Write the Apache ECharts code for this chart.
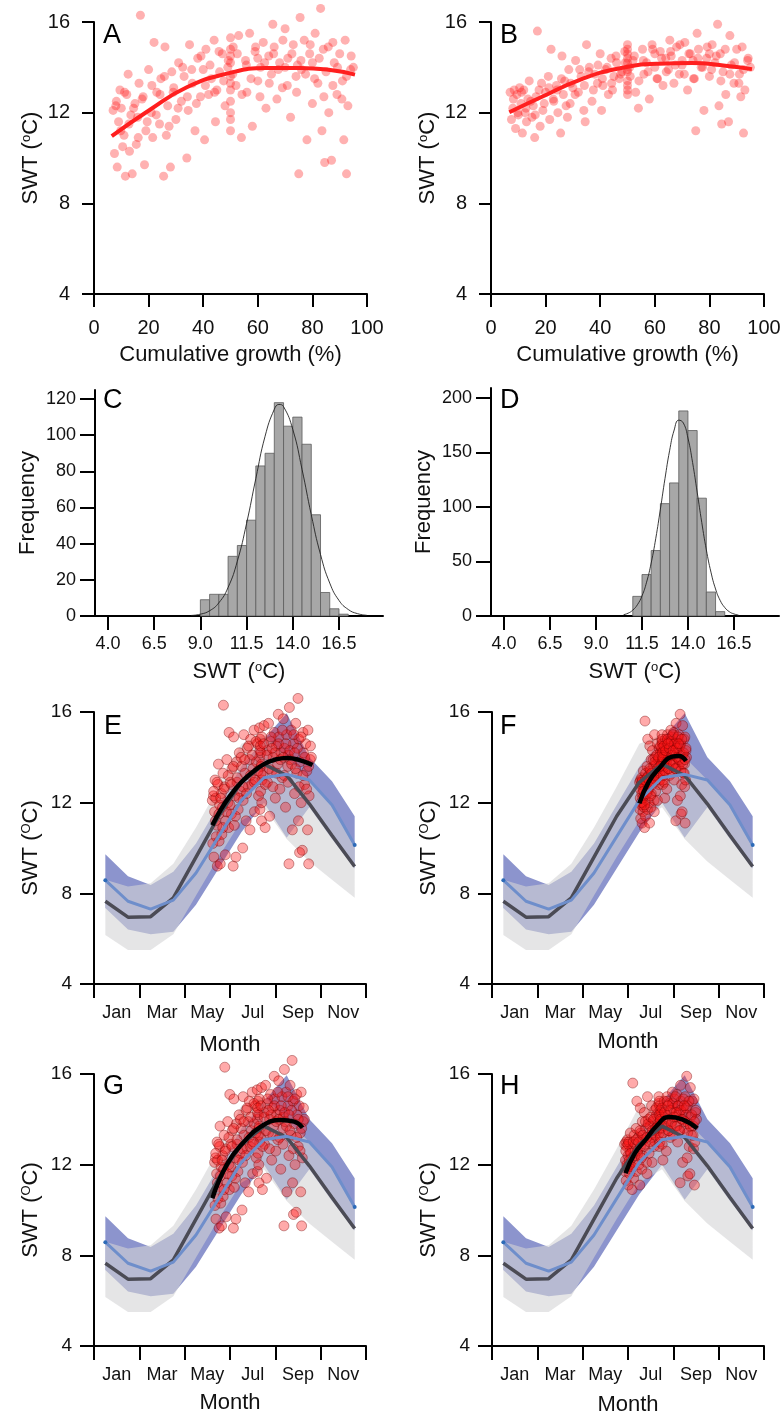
<!DOCTYPE html>
<html>
<head>
<meta charset="utf-8">
<script src="https://cdn.jsdelivr.net/npm/echarts@6/dist/echarts.min.js"></script>
<style>
html, body { margin: 0; background: #fff; }
#main { width: 784px; height: 1418px; }
</style>
</head>
<body>
<div id="main"></div>
<script>
var FONT = 'Liberation Sans, Arial, sans-serif';

// cumulative growth (%) of each record, shared by A and B
var growth = [7,7.5,8,8.5,9,9.5,10,10.5,11,11.5,12,12.5,13,13.5,14,15,
  15.5,16,16.5,17,18,18.5,19,20,21,21.5,22,23,24,24.5,
  25.5,26,26.5,27,28,28.5,29,30,31,32,33,34,34.5,
  35,36,37,38,39,40,40.5,41,42,43,44,44.5,
  46,47,48,49,50,50,50,50,50,50,50,50,51,52,53,54,
  55.5,56,57,58,59,60,61,62,63,64,65,65.5,
  66,67,68,69,70,71,72,73,74,75,75.5,74.5,
  76,77,78,79,80,81,82,83,83.5,84,84.5,85,
  86,87,87.5,88,89,90,91,91.5,92,92.5,93,94,95];
var growth2 = [8.2,9.8,11.2,12.8,14.5,16.2,17.6,19.5,21.2,22.8,
  24.2,25.8,27.5,29.2,30.8,32.5,34.2,35.8,37.5,39.2,
  40.8,42.5,44.2,45.8,47.5,49.2,50,50,50,50.8,
  52.5,54.2,55.8,57.5,59.2,60.8,62.5,64.2,65.8,67.5,
  69.2,70.8,72.5,74.2,75.8,77.5,79.2,80.8,82.5,84.2,
  85.8,87.5,89.2,90.8,92.5,94.2,60,70,80,45];

// SWT reconstructions, left column (A, E, G)
var swtA = [12.1,10.2,12.3,9.6,11.6,13.0,12.2,10.5,11.0,9.2,12.8,13.7,10.3,11.9,9.3,12.4,
  10.6,11.8,13.3,16.3,12.7,9.7,11.2,13.9,12.0,10.9,15.1,12.9,11.5,13.5,
  9.2,14.9,11.0,12.3,9.6,13.8,12.9,11.7,14.2,12.5,13.6,10.0,12.1,
  15.0,13.3,11.2,14.4,12.7,13.9,10.8,14.8,12.8,13.5,15.2,11.6,
  13.8,14.6,12.3,14.0,15.3,14.8,14.2,13.6,13.0,12.5,11.7,11.2,14.9,13.2,15.4,10.9,
  14.3,12.9,15.5,11.4,14.7,13.4,14.0,15.1,12.2,14.5,13.7,15.9,
  14.9,12.6,14.2,13.1,15.7,14.4,11.8,15.0,13.6,9.3,16.2,14.1,
  13.9,15.2,10.8,14.6,12.4,15.5,13.3,16.6,11.2,14.8,9.8,13.8,
  12.0,9.9,15.1,14.2,12.8,14.6,13.4,10.8,15.2,9.3,12.3,13.9,14.0];
var swtA2 = [12.5,11.2,12.9,11.5,12.2,10.9,12.6,11.6,13.2,11.9,
  12.8,13.6,11.4,13.1,12.2,14.0,12.7,13.9,12.4,14.5,
  13.2,14.1,12.9,14.7,13.4,14.3,14.5,13.3,12.0,13.7,
  14.6,12.8,14.1,13.5,14.9,12.7,14.2,13.3,14.6,13.9,
  15.2,13.2,14.6,12.9,14.3,13.7,15.0,13.5,14.4,12.7,
  14.9,13.2,14.0,12.6,13.6,14.5,14.4,14.0,14.2,13.0];

// SWT reconstructions, right column (B, F, H)
var swtB = [12.9,11.7,12.2,13.0,11.3,12.8,11.9,13.1,12.4,11.1,13.0,12.0,11.6,12.6,13.4,11.8,
  12.3,10.9,12.7,15.6,11.4,13.3,12.1,12.9,13.6,11.7,14.8,12.5,13.2,12.0,
  11.1,14.5,12.8,13.4,11.8,13.9,12.4,13.1,14.3,12.9,13.6,12.1,11.6,
  15.0,14.0,12.5,13.7,13.3,14.6,12.1,13.2,13.9,12.8,14.4,13.0,
  14.2,13.5,13.8,14.7,15.0,14.6,14.2,13.8,13.4,13.0,12.8,14.4,13.6,14.3,12.9,12.2,
  14.8,13.7,14.2,12.6,15.0,14.0,13.5,14.7,13.2,14.4,13.9,15.2,
  14.5,13.3,14.9,13.7,14.1,15.1,13.0,14.6,14.3,11.2,15.5,13.5,
  14.8,14.0,12.1,14.4,13.6,15.0,14.2,15.9,12.3,14.6,11.5,13.8,
  12.8,11.6,15.4,14.1,13.3,14.8,13.7,12.7,14.9,11.1,13.0,14.3,14.0];
var swtB2 = [12.6,12.0,12.9,12.2,12.5,11.9,13.0,12.4,13.1,12.6,
  13.0,13.5,12.3,13.3,12.8,13.9,13.2,13.8,13.0,14.1,
  13.5,14.0,13.3,14.5,13.7,14.2,14.8,13.9,13.2,14.0,
  14.5,13.4,14.3,13.8,14.8,13.5,14.4,13.8,14.7,14.1,
  15.0,13.7,14.6,13.5,14.4,14.0,14.9,13.9,14.5,13.4,
  14.8,13.7,14.2,13.3,13.9,14.4,14.6,14.3,14.6,13.6];

// dates of the same records, in months from 1 Jan
var monthE = [5.22,5.24,5.27,5.29,5.32,5.34,5.37,5.39,5.42,5.44,5.47,5.49,5.52,5.54,5.57,5.62,
  5.64,5.67,5.69,5.71,5.76,5.79,5.81,5.86,5.91,5.94,5.96,6.01,6.06,6.09,
  6.14,6.16,6.19,6.21,6.26,6.29,6.31,6.36,6.41,6.46,6.51,6.56,6.58,
  6.61,6.66,6.71,6.76,6.81,6.86,6.88,6.91,6.96,7.01,7.06,7.08,
  7.16,7.21,7.26,7.31,7.30,7.33,7.36,7.38,7.41,7.35,7.32,7.39,7.40,7.45,7.50,7.55,
  7.63,7.65,7.70,7.75,7.80,7.85,7.90,7.95,8.00,8.05,8.10,8.13,
  8.15,8.20,8.25,8.30,8.35,8.40,8.45,8.50,8.55,8.60,8.62,8.57,
  8.65,8.70,8.75,8.80,8.85,8.90,8.95,9.00,9.02,9.04,9.07,9.09,
  9.14,9.19,9.22,9.24,9.29,9.34,9.39,9.42,9.44,9.47,9.49,9.54,9.59];
var monthE2 = [5.28,5.36,5.43,5.51,5.59,5.68,5.74,5.84,5.92,6.00,
  6.07,6.15,6.24,6.32,6.40,6.49,6.57,6.65,6.73,6.82,
  6.90,6.98,7.07,7.15,7.23,7.32,7.34,7.37,7.40,7.39,
  7.48,7.56,7.64,7.73,7.81,7.89,7.98,8.06,8.14,8.22,
  8.31,8.39,8.47,8.56,8.64,8.72,8.81,8.89,8.97,9.05,
  9.13,9.22,9.30,9.38,9.47,9.55,7.85,8.35,8.85,7.11];
var monthG = [5.32,5.34,5.36,5.38,5.41,5.43,5.45,5.47,5.50,5.52,5.54,5.56,5.59,5.61,5.63,5.68,
  5.70,5.72,5.74,5.77,5.81,5.83,5.86,5.90,5.95,5.97,5.99,6.04,6.08,6.10,
  6.15,6.17,6.19,6.22,6.26,6.28,6.31,6.35,6.40,6.44,6.49,6.53,6.55,
  6.58,6.62,6.67,6.71,6.76,6.80,6.82,6.85,6.89,6.94,6.98,7.00,
  7.07,7.12,7.16,7.21,7.20,7.23,7.26,7.29,7.31,7.24,7.21,7.28,7.30,7.34,7.39,7.43,
  7.50,7.52,7.57,7.61,7.66,7.70,7.75,7.79,7.84,7.88,7.93,7.95,
  7.97,8.02,8.06,8.11,8.15,8.20,8.24,8.29,8.33,8.38,8.40,8.35,
  8.42,8.47,8.51,8.56,8.60,8.65,8.69,8.74,8.76,8.78,8.80,8.83,
  8.87,8.92,8.94,8.96,9.01,9.05,9.10,9.12,9.14,9.16,9.19,9.23,9.28];
var monthG2 = [5.37,5.44,5.50,5.58,5.65,5.73,5.79,5.88,5.95,6.03,
  6.09,6.16,6.24,6.31,6.39,6.46,6.54,6.61,6.69,6.76,
  6.84,6.91,6.99,7.06,7.14,7.21,7.22,7.25,7.27,7.29,
  7.36,7.44,7.51,7.59,7.66,7.74,7.81,7.89,7.96,8.04,
  8.11,8.19,8.26,8.34,8.41,8.49,8.56,8.64,8.71,8.79,
  8.86,8.94,9.01,9.09,9.16,9.24,7.70,8.15,8.60,7.03];
var monthF = [6.51,6.53,6.54,6.55,6.56,6.57,6.59,6.60,6.61,6.62,6.63,6.64,6.66,6.67,6.68,6.70,
  6.71,6.73,6.74,6.75,6.77,6.78,6.80,6.82,6.84,6.86,6.87,6.89,6.91,6.93,
  6.95,6.96,6.98,6.98,7.01,7.02,7.03,7.06,7.08,7.10,7.13,7.15,7.16,
  7.17,7.20,7.22,7.24,7.27,7.29,7.30,7.31,7.34,7.36,7.38,7.40,
  7.43,7.45,7.48,7.50,7.50,7.52,7.54,7.56,7.51,7.55,7.53,7.49,7.55,7.57,7.60,7.62,
  7.65,7.67,7.69,7.71,7.74,7.76,7.78,7.81,7.83,7.85,7.88,7.89,
  7.90,7.92,7.95,7.97,7.99,8.02,8.04,8.07,8.09,8.11,8.12,8.10,
  8.14,8.16,8.18,8.21,8.23,8.25,8.28,8.30,8.31,8.32,8.34,8.35,
  8.37,8.39,8.41,8.42,8.44,8.47,8.49,8.50,8.51,8.52,8.54,8.56,8.58];
var monthF2 = [6.54,6.58,6.61,6.65,6.69,6.73,6.76,6.81,6.85,6.89,
  6.92,6.96,7.00,7.04,7.07,7.11,7.15,7.19,7.23,7.27,
  7.31,7.35,7.39,7.43,7.47,7.51,7.50,7.53,7.55,7.54,
  7.58,7.62,7.66,7.70,7.74,7.78,7.82,7.86,7.90,7.94,
  7.98,8.01,8.05,8.09,8.13,8.17,8.21,8.25,8.29,8.33,
  8.37,8.41,8.45,8.48,8.52,8.56,7.76,7.99,8.23,7.41];
var monthH = [5.85,5.87,5.89,5.91,5.92,5.94,5.96,5.98,6.00,6.01,6.03,6.05,6.07,6.09,6.10,6.14,
  6.16,6.18,6.19,6.21,6.25,6.27,6.28,6.32,6.36,6.37,6.39,6.43,6.46,6.48,
  6.52,6.54,6.55,6.57,6.61,6.63,6.64,6.68,6.72,6.75,6.79,6.82,6.84,
  6.86,6.90,6.93,6.97,7.00,7.04,7.06,7.08,7.11,7.15,7.18,7.20,
  7.26,7.29,7.33,7.36,7.36,7.39,7.42,7.44,7.38,7.41,7.37,7.43,7.44,7.47,7.51,7.54,
  7.60,7.62,7.65,7.69,7.72,7.76,7.80,7.83,7.87,7.90,7.94,7.96,
  7.98,8.01,8.05,8.08,8.12,8.16,8.19,8.23,8.26,8.30,8.32,8.28,
  8.34,8.37,8.41,8.44,8.48,8.52,8.55,8.59,8.61,8.62,8.64,8.66,
  8.70,8.73,8.75,8.77,8.80,8.84,8.88,8.89,8.91,8.93,8.95,8.98,9.02];
var monthH2 = [5.90,5.95,6.00,6.06,6.12,6.18,6.23,6.30,6.36,6.42,
  6.47,6.53,6.59,6.65,6.71,6.77,6.83,6.89,6.95,7.01,
  7.07,7.13,7.19,7.25,7.31,7.37,7.38,7.41,7.43,7.43,
  7.49,7.55,7.61,7.67,7.73,7.79,7.85,7.91,7.97,8.03,
  8.09,8.15,8.21,8.27,8.33,8.39,8.45,8.51,8.57,8.63,
  8.69,8.75,8.81,8.87,8.93,8.99,7.76,8.12,8.48,7.22];

// fitted curves
var fitAx = [6.5,20.5,34,48.6,63.2,75.5,85.3,95.6];
var fitAy = [10.97,12.13,13.12,13.72,13.97,13.97,13.9,13.68];
var fitBx = [6.7,18.7,32.1,46.8,61.4,73.6,85.8,95.6];
var fitBy = [12.02,12.7,13.43,13.95,14.16,14.19,14.07,13.92];
var fitEx = [5.22,5.6,6.0,6.5,7.0,7.5,8.0,8.5,9.0,9.64];
var fitEy = [11.0,11.7,12.3,12.9,13.35,13.7,13.9,13.97,13.9,13.66];
var fitFx = [6.5,6.92,7.36,7.95,8.24,8.56];
var fitFy = [11.97,12.93,13.5,14.03,14.06,13.84];
var fitGx = [5.22,5.89,6.62,7.36,8.24,8.83,9.2];
var fitGy = [10.52,12.06,13.01,13.68,13.97,13.9,13.63];
var fitHx = [5.89,6.3,6.77,7.3,7.8,8.39,9.05];
var fitHy = [11.62,12.5,13.09,13.75,14.1,14.0,13.6];

// histograms (bin start, 0.5 wide) and fitted normal curves
var binW = 0.5;
var binsC = [9.0,9.5,10.0,10.5,11.0,11.5,12.0,12.5,13.0,13.5,14.0,14.5,15.0,15.5,16.0,16.5];
var countsC = [9,12,12,33,39,53,83,90,118,105,110,95,56,13,4,1];
var binsD = [11.0,11.5,12.0,12.5,13.0,13.5,14.0,14.5,15.0,15.5];
var countsD = [18,38,60,103,122,188,170,108,22,4];
var normCx = [8.5,9,9.5,10,10.5,11,11.5,12,12.5,13,13.25,13.5,14,14.5,15,15.5,16,16.5,17,17.5,18];
var normCy = [0.3,1.0,2.9,7.3,15.8,30.3,51.2,76.0,99.4,114.3,117,115.8,103.2,81.1,56.0,34.0,18.2,8.6,3.6,1.3,0.4];
var normDx = [10.5,10.75,11,11.25,11.5,11.75,12,12.25,12.5,12.75,13,13.25,13.5,13.75,14,14.25,14.5,14.75,15,15.25,15.5,15.75,16,16.25,16.5,16.75];
var normDy = [1.2,2.6,5.4,10.3,18.4,31,48.6,71.2,97.9,125.9,151.4,170.5,179.5,176.9,163.1,140.8,113.6,85.8,60.6,40.2,24.8,14.3,7.8,3.9,1.9,0.8];
var histTicks = [4.0,6.5,9.0,11.5,14.0,16.5];

// monthly climatology (mid-month positions)
var monthNames = ['Jan','Mar','May','Jul','Sep','Nov'];
var monthLabelAt = [1,3,5,7,9,11];
var monthTickAt = [0,2,4,6,8,10,12];
var monthX = [0.5,1.5,2.5,3.5,4.5,5.5,6.5,7.5,8.5,9.5,10.5,11.5];
var grayMean = [7.65,6.95,6.97,7.8,9.6,11.4,12.9,13.7,13.2,11.95,10.55,9.18];
var grayUpper = [8.6,8.3,8.45,9.3,10.9,12.7,14.6,15.0,14.0,13.0,11.9,10.1];
var grayLower = [6.16,5.5,5.5,6.2,7.9,9.6,11.2,11.8,10.4,9.4,8.6,7.8];
var blueMean = [8.58,7.65,7.3,7.7,8.9,10.5,12.1,13.1,13.25,13.0,11.9,10.13];
var blueUpper = [9.72,8.75,8.37,8.95,10.2,11.9,13.6,14.8,15.95,14.0,12.95,11.4];
var blueLower = [7.35,6.4,6.2,6.3,7.5,9.1,10.7,12.0,10.45,11.8,10.4,9.1];

function pairs(xs, ys) {
  return xs.map(function (x, i) { return [x, ys[i]]; });
}

var supStyle = {fontSize: 13, fontFamily: FONT, color: '#111', verticalAlign: 'top'};

function mkAxis(g, o) {
  var a = {
    type: 'value', gridIndex: g, min: o.min, max: o.max,
    axisLine: {onZero: false, lineStyle: {color: '#000', width: 2}},
    axisTick: {length: o.tick, lineStyle: {color: '#000', width: 2}},
    axisLabel: {margin: o.margin, fontSize: o.fs, fontFamily: FONT, color: '#111'},
    splitLine: {show: false},
    name: o.name, nameLocation: 'middle', nameGap: o.gap,
    nameTextStyle: {fontSize: 22, fontFamily: FONT, color: '#111', rich: {s: supStyle}}
  };
  if (o.interval) a.interval = o.interval;
  if (o.ticks) a.axisTick.customValues = o.ticks;
  if (o.labels) a.axisLabel.customValues = o.labels;
  if (o.fmt) a.axisLabel.formatter = o.fmt;
  return a;
}

var grids = [
  {left: 94, top: 22, width: 273, height: 272},
  {left: 491, top: 22, width: 273, height: 272},
  {left: 95, top: 390, width: 288, height: 226},
  {left: 491, top: 388, width: 288, height: 228},
  {left: 94, top: 712, width: 272, height: 272},
  {left: 492, top: 712, width: 272, height: 272},
  {left: 94, top: 1074, width: 272, height: 272},
  {left: 492, top: 1074, width: 272, height: 272}
];

var xAxes = [], yAxes = [], series = [];

// A, B
[0, 1].forEach(function (k) {
  xAxes.push(mkAxis(k, {min: 0, max: 100, interval: 20, tick: 13, margin: 24, fs: 20,
    name: 'Cumulative growth (%)', gap: 50}));
  yAxes.push(mkAxis(k, {min: 4, max: 16, interval: 4, tick: 12, margin: 24, fs: 20,
    name: 'SWT ({s|o}C)', gap: 52}));
});
var allGrowth = growth.concat(growth2);
[[0, swtA.concat(swtA2), fitAx, fitAy], [1, swtB.concat(swtB2), fitBx, fitBy]].forEach(function (p) {
  series.push({type: 'scatter', xAxisIndex: p[0], yAxisIndex: p[0], data: pairs(allGrowth, p[1]), symbolSize: 9,
    itemStyle: {color: 'rgba(255,25,25,0.42)'}, clip: false, silent: true});
  series.push({type: 'line', xAxisIndex: p[0], yAxisIndex: p[0], data: pairs(p[2], p[3]), smooth: true,
    showSymbol: false, lineStyle: {color: '#ff1f1f', width: 4}, silent: true});
});

// C, D
function histItem(params, api) {
  var x0 = api.value(0), n = api.value(1);
  var p0 = api.coord([x0, n]);
  var p1 = api.coord([x0 + binW, 0]);
  return {type: 'rect', shape: {x: p0[0], y: p0[1], width: p1[0] - p0[0], height: p1[1] - p0[1]},
    style: {fill: '#a7a7a7', stroke: '#5c5c5c', lineWidth: 0.8}};
}
[[2, binsC, countsC, normCx, normCy, 125, [0,20,40,60,80,100,120], 3.3, 18.88],
 [3, binsD, countsD, normDx, normDy, 209, [0,50,100,150,200], 3.29, 18.95]].forEach(function (h) {
  var k = h[0];
  xAxes.push(mkAxis(k, {min: h[7], max: h[8], tick: 14, margin: 19, fs: 18,
    ticks: histTicks, labels: histTicks, fmt: function (v) { return v.toFixed(1); },
    name: 'SWT ({s|o}C)', gap: 45}));
  yAxes.push(mkAxis(k, {min: 0, max: h[5], tick: 15, margin: 19, fs: 18,
    ticks: h[6], labels: h[6], name: 'Frequency', gap: 56}));
  series.push({type: 'custom', xAxisIndex: k, yAxisIndex: k, renderItem: histItem,
    encode: {x: 0, y: 1}, data: pairs(h[1], h[2]), silent: true});
  series.push({type: 'line', xAxisIndex: k, yAxisIndex: k, data: pairs(h[3], h[4]), smooth: true,
    showSymbol: false, lineStyle: {color: '#222', width: 0.9}, silent: true, z: 3});
});

// E, F, G, H
var monthPanels = [
  [4, monthE.concat(monthE2), swtA.concat(swtA2), fitEx, fitEy, 50],
  [5, monthF.concat(monthF2), swtB.concat(swtB2), fitFx, fitFy, 47],
  [6, monthG.concat(monthG2), swtA.concat(swtA2), fitGx, fitGy, 46],
  [7, monthH.concat(monthH2), swtB.concat(swtB2), fitHx, fitHy, 48]
];

// envelope polygon between two monthly series
function bandSeries(k, upper, lower, color, op) {
  return {
    type: 'custom', xAxisIndex: k, yAxisIndex: k, silent: true,
    data: pairs(monthX, upper),
    renderItem: function (params, api) {
      if (params.dataIndex !== 0) return null;
      var pts = [];
      monthX.forEach(function (x, i) { pts.push(api.coord([x, upper[i]])); });
      for (var i = monthX.length - 1; i >= 0; i--) pts.push(api.coord([monthX[i], lower[i]]));
      return {type: 'polygon', shape: {points: pts}, style: {fill: color, opacity: op}};
    }
  };
}

monthPanels.forEach(function (p) {
  var k = p[0];
  xAxes.push(mkAxis(k, {min: 0, max: 12, tick: 14, margin: 20, fs: 18,
    ticks: monthTickAt, labels: monthLabelAt,
    fmt: function (v) { return monthNames[Math.round((v - 1) / 2)]; },
    name: 'Month', gap: p[5]}));
  yAxes.push(mkAxis(k, {min: 4, max: 16, interval: 4, tick: 14, margin: 22, fs: 19,
    name: 'SWT ({s|O}C)', gap: 52}));
  var base = {xAxisIndex: k, yAxisIndex: k, silent: true};
  series.push(bandSeries(k, blueUpper, blueLower, '#8c94cd', 1));
  series.push(bandSeries(k, grayUpper, grayLower, '#d3d3d6', 0.6));
  series.push(Object.assign({type: 'line', data: pairs(monthX, grayMean), showSymbol: false,
    lineStyle: {color: '#4b4b55', width: 3.5}}, base));
  series.push(Object.assign({type: 'line', data: pairs(monthX, blueMean), symbol: 'circle',
    symbolSize: function (v, prm) { return (prm.dataIndex === 0 || prm.dataIndex === 11) ? 4 : 0; },
    itemStyle: {color: '#2d6bb8'}, lineStyle: {color: '#6e8ecb', width: 3}}, base));
  series.push(Object.assign({type: 'scatter', data: pairs(p[1], p[2]), symbolSize: 10, clip: false,
    itemStyle: {color: 'rgba(255,20,20,0.45)', borderColor: 'rgba(110,0,0,0.6)', borderWidth: 0.8}}, base));
  series.push(Object.assign({type: 'line', data: pairs(p[3], p[4]), smooth: true, showSymbol: false,
    lineStyle: {color: '#000', width: 4.5}, z: 4}, base));
});

var letters = [['A', 103, 22], ['B', 500, 22], ['C', 103, 387], ['D', 500, 387],
  ['E', 104, 713], ['F', 500, 713], ['G', 103, 1073], ['H', 500, 1073]];

var chart = echarts.init(document.getElementById('main'), null, {renderer: 'canvas'});
chart.setOption({
  animation: false,
  backgroundColor: '#fff',
  grid: grids,
  xAxis: xAxes,
  yAxis: yAxes,
  series: series,
  graphic: letters.map(function (l) {
    return {type: 'text', left: l[1], top: l[2], z: 10,
      style: {text: l[0], fontSize: 27, fontFamily: FONT, fill: '#000'}};
  })
});
</script>
</body>
</html>
